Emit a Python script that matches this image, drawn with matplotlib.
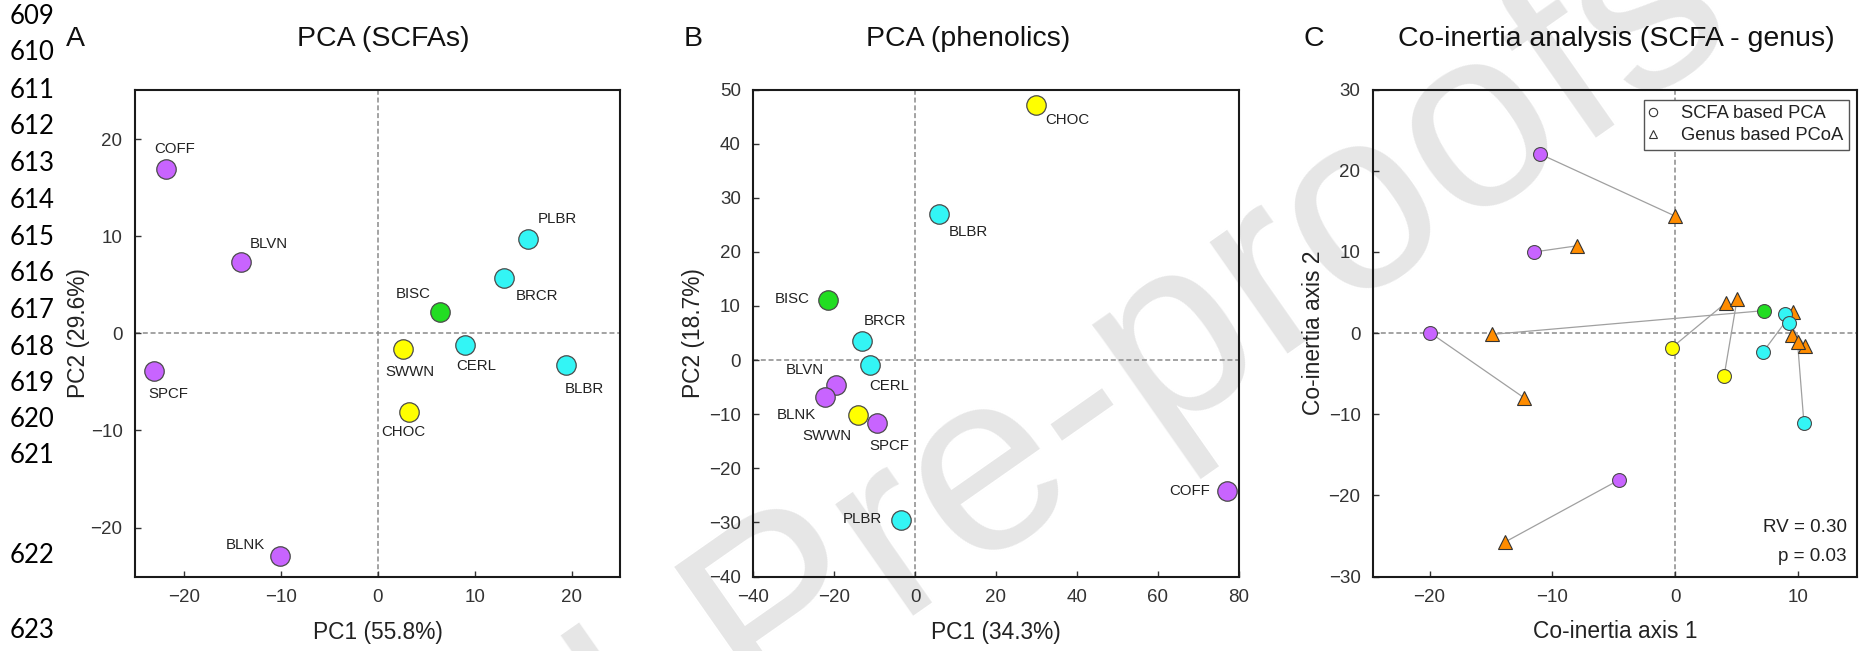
import numpy as np
import matplotlib
matplotlib.use("Agg")
import matplotlib.pyplot as plt
from matplotlib.lines import Line2D

plt.rcParams['font.family'] = ['Liberation Sans', 'DejaVu Sans']
plt.rcParams['lines.scale_dashes'] = False

# ---------------- data ----------------
group_colors = {'purple': '#C864FF', 'cyan': '#33F5F5', 'green': '#22DD22', 'yellow': '#FFFF00'}
sample_group = {'COFF': 'purple', 'BLVN': 'purple', 'SPCF': 'purple', 'BLNK': 'purple',
                'BISC': 'green', 'PLBR': 'cyan', 'BRCR': 'cyan', 'CERL': 'cyan', 'BLBR': 'cyan',
                'SWWN': 'yellow', 'CHOC': 'yellow'}

a_names = ['COFF', 'BLVN', 'SPCF', 'BLNK', 'BISC', 'PLBR', 'BRCR', 'CERL', 'BLBR', 'SWWN', 'CHOC']
a_pc1 = [-21.9, -14.15, -23.1, -10.1, 6.42, 15.5, 13.0, 8.96, 19.4, 2.58, 3.17]
a_pc2 = [17.0, 7.36, -3.85, -22.9, 2.18, 9.7, 5.7, -1.2, -3.2, -1.58, -8.13]

b_names = ['CHOC', 'BLBR', 'BISC', 'BRCR', 'CERL', 'BLVN', 'BLNK', 'SWWN', 'SPCF', 'COFF', 'PLBR']
b_pc1 = [29.9, 5.9, -21.6, -13.1, -11.2, -19.6, -22.3, -14.2, -9.3, 77.1, -3.55]
b_pc2 = [47.2, 27.0, 11.1, 3.6, -0.85, -4.6, -6.8, -10.2, -11.6, -24.2, -29.6]

c_group = ['purple', 'purple', 'purple', 'purple', 'green', 'yellow', 'yellow', 'cyan', 'cyan', 'cyan', 'cyan']
c_pca_x = [-11.0, -11.49, -19.92, -4.57, 7.2, -0.28, 3.98, 7.17, 8.94, 9.26, 10.48]
c_pca_y = [22.05, 9.98, 0.0, -18.1, 2.75, -1.81, -5.30, -2.30, 2.38, 1.23, -11.09]
c_pcoa_x = [0.0, -8.01, -12.27, -13.86, -14.92, 4.11, 5.04, 9.55, 9.53, 10.56, 9.96]
c_pcoa_y = [14.4, 10.74, -8.02, -25.76, -0.17, 3.70, 4.19, 2.54, -0.25, -1.56, -1.16]

line_numbers = ['609', '610', '611', '612', '613', '614', '615', '616', '617', '618', '619', '620', '621', '622', '623']

# ---------------- layout ----------------
W, H = 1868, 651
fig = plt.figure(figsize=(W / 100, H / 100), dpi=100)

a_offsets = [(9, 20), (28, 18.5), (14, -23), (-35, 11), (-27, 18), (29, 20), (33, -18), (12, -21), (19, -24), (7, -23), (-5, -20)]
b_offsets = [(31, -15), (29, -18.5), (-36, 1), (23, 19.5), (20, -21.5), (-31, 14.5), (-28, -18.5), (-31, -20.5), (12, -23.5), (-37, 0), (-38, 1)]
line_y = [16.6, 53, 90, 126.4, 163.7, 200, 237.5, 273.5, 310.8, 347.3, 383.8, 419.4, 455.9, 555.3, 630]

ax_bottom = (H - 576.5) / H
ax_height = (576.5 - 89.5) / H
axA = fig.add_axes([135 / W, ax_bottom, 485 / W, ax_height])
axB = fig.add_axes([753.3 / W, ax_bottom, 485.2 / W, ax_height])
axC = fig.add_axes([1373 / W, ax_bottom, 484 / W, ax_height])

edge = '#4a4a4a'


def style(ax):
    ax.set_facecolor('none')
    for s in ax.spines.values():
        s.set_linewidth(1.5)
        s.set_color('#1a1a1a')
    ax.tick_params(direction='in', length=4.5, width=1.0, color='#333333',
                   labelsize=13.5, labelcolor='#333333', pad=9,
                   top=False, right=False)
    ax.axhline(0, color='#8a8a8a', lw=1.1, ls=(0, (3.6, 2.0)), zorder=1)
    ax.axvline(0, color='#8a8a8a', lw=1.1, ls=(0, (3.6, 2.0)), zorder=1)


def labels(ax, xl, yl, ydist):
    ax.set_xlabel(xl, fontsize=16.4, color='#222222')
    ax.set_ylabel(yl, fontsize=16.4, color='#222222')
    ax.xaxis.set_label_coords(0.5, -(632 - 576.5) / 487)
    ax.xaxis.label.set_va('center')
    ax.yaxis.set_label_coords(-ydist / 485, 0.5)
    ax.yaxis.label.set_va('center')


# Panel A
style(axA)
axA.set_xlim(-25.1, 25.0)
axA.set_ylim(-25.05, 25.15)
axA.set_xticks([-20, -10, 0, 10, 20])
axA.set_yticks([-20, -10, 0, 10, 20])
for n, x, y, off in zip(a_names, a_pc1, a_pc2, a_offsets):
    axA.plot(x, y, 'o', ms=14, mfc=group_colors[sample_group[n]], mec=edge, mew=0.9, zorder=4)
    axA.annotate(n, (x, y), xytext=off, textcoords='offset pixels', ha='center', va='center',
                 fontsize=10.8, color='#222222', zorder=5)
labels(axA, 'PC1 (55.8%)', 'PC2 (29.6%)', 135 - 78.7)

# Panel B
style(axB)
axB.set_xlim(-40, 80)
axB.set_ylim(-40, 50)
axB.set_xticks([-40, -20, 0, 20, 40, 60, 80])
axB.set_yticks([-40, -30, -20, -10, 0, 10, 20, 30, 40, 50])
for n, x, y, off in zip(b_names, b_pc1, b_pc2, b_offsets):
    axB.plot(x, y, 'o', ms=14, mfc=group_colors[sample_group[n]], mec=edge, mew=0.9, zorder=4)
    axB.annotate(n, (x, y), xytext=off, textcoords='offset pixels', ha='center', va='center',
                 fontsize=10.8, color='#222222', zorder=5)
labels(axB, 'PC1 (34.3%)', 'PC2 (18.7%)', 753.3 - 694)

# Panel C
style(axC)
axC.set_xlim(-24.6, 14.8)
axC.set_ylim(-30, 30)
axC.set_xticks([-20, -10, 0, 10])
axC.set_yticks([-30, -20, -10, 0, 10, 20, 30])
for x1, y1, x2, y2 in zip(c_pca_x, c_pca_y, c_pcoa_x, c_pcoa_y):
    axC.plot([x1, x2], [y1, y2], color='#a0a0a0', lw=0.9, zorder=2)
axC.plot(c_pcoa_x, c_pcoa_y, '^', ms=9.6, mfc='#FF8C00', mec='#333333', mew=0.8, ls='none', zorder=3)
for g, x, y in zip(c_group, c_pca_x, c_pca_y):
    axC.plot(x, y, 'o', ms=10, mfc=group_colors[g], mec=edge, mew=0.8, zorder=4)
labels(axC, 'Co-inertia axis 1', 'Co-inertia axis 2', 1373 - 1313)
handles = [Line2D([], [], marker='o', ls='none', ms=6, mfc='white', mec='#333333', mew=0.8),
           Line2D([], [], marker='^', ls='none', ms=6, mfc='white', mec='#333333', mew=0.8)]
leg = axC.legend(handles, ['SCFA based PCA', 'Genus based PCoA'], loc='upper right',
                 bbox_to_anchor=(1 - 8 / 484, 1 - 10 / 487), borderaxespad=0,
                 fontsize=13.2, frameon=True, fancybox=False, framealpha=1,
                 edgecolor='#555555', borderpad=0.3, labelspacing=0.3,
                 handlelength=0.45, handletextpad=1.3)
leg.get_frame().set_linewidth(1.0)
for t in leg.get_texts():
    t.set_color('#222222')
axC.text(1 - 10 / 484, (576.5 - 527.7) / 487, 'RV = 0.30', transform=axC.transAxes,
         ha='right', va='center', fontsize=13.6, color='#222222')
axC.text(1 - 10 / 484, (576.5 - 556.7) / 487, 'p = 0.03', transform=axC.transAxes,
         ha='right', va='center', fontsize=13.6, color='#222222')

# titles and panel letters
ty = 1 - 39.4 / H
fig.text(383.7 / W, ty, 'PCA (SCFAs)', ha='center', va='center', fontsize=20.5, color='#111111')
fig.text(968 / W, ty, 'PCA (phenolics)', ha='center', va='center', fontsize=20.5, color='#111111')
fig.text(1616 / W, ty, 'Co-inertia analysis (SCFA - genus)', ha='center', va='center', fontsize=20.5, color='#111111')
for letter, lx in zip(['A', 'B', 'C'], [65.5, 683.6, 1303.2]):
    fig.text(lx / W, ty, letter, ha='left', va='center', fontsize=20.5, color='#111111')

# manuscript line numbers
for num, yy in zip(line_numbers, line_y):
    fig.text(10 / W, 1 - yy / H, num, ha='left', va='center', fontsize=18.5,
             family=['Lato', 'DejaVu Sans'], color='black')

# watermark: anchor computed so that the "P" of "Pre" sits at the target pixel
wm_angle, wm_size = 35.0, 185.0
em = wm_size * 100 / 72
th = np.radians(wm_angle)
u = np.array([np.cos(th), -np.sin(th)])
v = np.array([-np.sin(th), -np.cos(th)])
p_target = np.array([775.0, 600.0])
start = p_target - 3.889 * em * u - 0.36 * em * v
fig.text(start[0] / W, (H - start[1]) / H, 'Journal Pre-proofs', ha='left', va='baseline',
         rotation=wm_angle, rotation_mode='anchor', fontsize=wm_size, color='#e6e6e6', zorder=-5)

fig.savefig('out.png', dpi=100)
